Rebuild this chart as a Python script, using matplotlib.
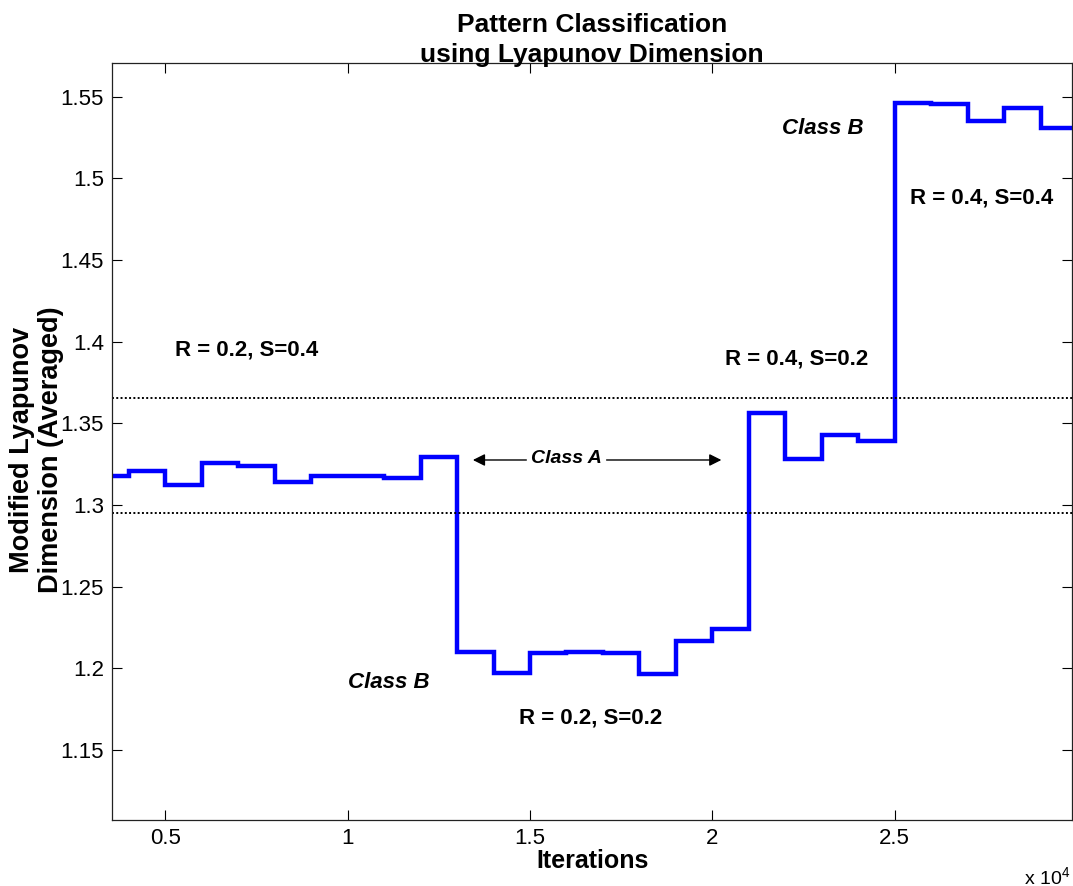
import numpy as np
import matplotlib
matplotlib.use("Agg")
import matplotlib.pyplot as plt
from matplotlib.ticker import FuncFormatter, MultipleLocator

plt.rcParams['font.family'] = ['Liberation Sans', 'DejaVu Sans']
plt.rcParams['mathtext.fontset'] = 'custom'
plt.rcParams['mathtext.rm'] = 'Liberation Sans'
plt.rcParams['mathtext.it'] = 'Liberation Sans:italic'
plt.rcParams['mathtext.bf'] = 'Liberation Sans:bold'

# step boundaries (iterations) and averaged dimension on each step
edges = [3550, 4000, 5000, 6000, 7000, 8000, 9000, 10000, 11000, 12000,
         13000, 14000, 15000, 16000, 17000, 18000, 19000, 20000, 21000,
         22000, 23000, 24000, 25000, 26000, 27000, 28000, 29000, 29860]
values = [1.3178, 1.3209, 1.3123, 1.3254, 1.3240, 1.3140, 1.3178, 1.3178,
          1.3166, 1.3293,
          1.2098, 1.1972, 1.2090, 1.2097, 1.2092, 1.1964, 1.2168, 1.2239,
          1.3564, 1.3279, 1.3428, 1.3393,
          1.5459, 1.5455, 1.5353, 1.5429, 1.5310]

# class A band
band_upper = 1.3656
band_lower = 1.2948

# parameter labels: (x, y, text)
param_labels = [
    (5275, 1.3948, "R = 0.2, S=0.4"),
    (14698, 1.1694, "R = 0.2, S=0.2"),
    (20357, 1.3892, "R = 0.4, S=0.2"),
    (25412, 1.4879, "R = 0.4, S=0.4"),
]
class_labels = [
    (10000, 1.1914, "Class B"),
    (21896, 1.5308, "Class B"),
]
class_a_x, class_a_y = 15989, 1.3286
arrow_left = (14900, 13434)
arrow_right = (17100, 20247)

fig = plt.figure(figsize=(10.73, 8.86), dpi=100)
ax = fig.add_axes([0.1047, 0.0745, 0.8944, 0.8541])

ax.stairs(values, edges, baseline=None, color=(0, 0, 1), linewidth=3.2)
ax.axhline(band_upper, color='k', linestyle=(0, (1, 1.2)), linewidth=1.4)
ax.axhline(band_lower, color='k', linestyle=(0, (1, 1.2)), linewidth=1.4)

for x, y, s in param_labels:
    ax.text(x, y, s, fontsize=16, fontweight='bold', ha='left', va='center')
for x, y, s in class_labels:
    ax.text(x, y, s, fontsize=16, fontweight='bold', style='italic',
            ha='left', va='center')
ax.text(class_a_x, class_a_y, "Class A", fontsize=14, fontweight='bold',
        style='italic', ha='center', va='center')
for tail, head in (arrow_left, arrow_right):
    ax.annotate('', xy=(head, 1.3275), xytext=(tail, 1.3275),
                arrowprops=dict(arrowstyle='-|>', color='k', lw=1,
                                mutation_scale=18, shrinkA=0, shrinkB=0))

ax.set_xlim(edges[0], edges[-1])
ax.set_ylim(1.107, 1.5705)
ax.xaxis.set_major_locator(MultipleLocator(5000))
ax.yaxis.set_major_locator(MultipleLocator(0.05))
ax.xaxis.set_major_formatter(FuncFormatter(lambda v, p: f"{v / 1e4:g}"))
ax.yaxis.set_major_formatter(FuncFormatter(lambda v, p: f"{v:g}"))
ax.tick_params(direction='in', length=7, width=0.8, labelsize=16,
               top=True, right=True, pad=6)
for sp in ax.spines.values():
    sp.set_linewidth(0.9)
    sp.set_color('#222222')

ax.set_xlabel("Iterations", fontsize=18, fontweight='bold', labelpad=0)
ax.set_title("Pattern Classification\nusing Lyapunov Dimension",
             fontsize=19, fontweight='bold', pad=1, linespacing=1.3)
fig.text(37 / 1073, 1 - 450 / 886, "Modified Lyapunov\nDimension (Averaged)",
         rotation=90, ha='center', va='center', fontsize=19.5,
         fontweight='bold', linespacing=1.15)
fig.text(1070 / 1073, 1 - 877 / 886, r"x 10$^{4}$", ha='right', va='center',
         fontsize=14)

plt.savefig("out.png", dpi=100)
